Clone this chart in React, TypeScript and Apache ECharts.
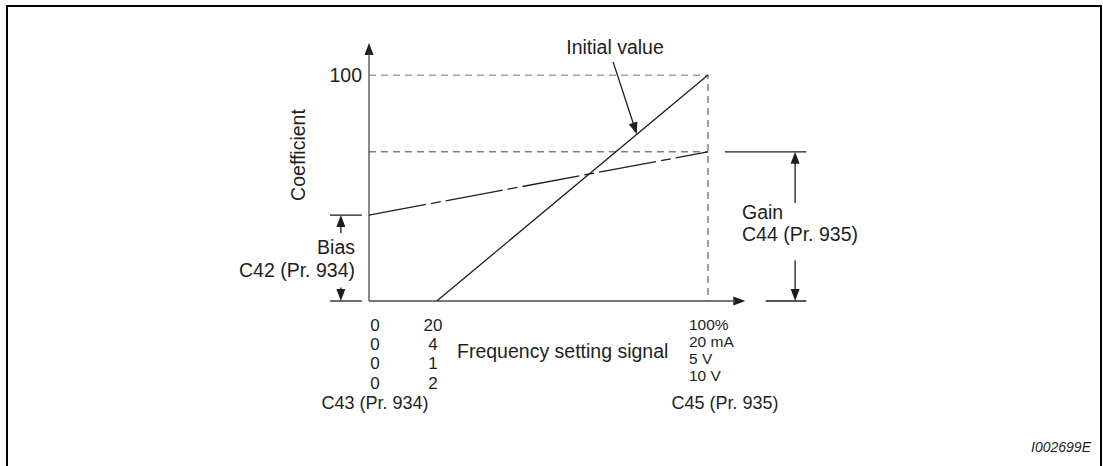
import React, { useEffect, useRef } from "react";
import * as echarts from "echarts";

// ---- data ----
const initialValueLine: number[][] = [[20, 0], [100, 100]];
const biasValue = 38;
const gainValue = 66;
const adjustedLine: number[][] = [[0, biasValue], [100, gainValue]];
const guideTop: number[][] = [[0, 100], [100, 100], [100, 0]];
const guideGain: number[][] = [[0, gainValue], [100, gainValue]];
const yTickLabels = ["100"];
const xTicksAt0 = ["0", "0", "0", "0"];
const xTicksAt20 = ["20", "4", "1", "2"];
const xTicksAt100 = ["100%", "20 mA", "5 V", "10 V"];
const xParamLeft = "C43 (Pr. 934)";
const xParamRight = "C45 (Pr. 935)";
const xAxisName = "Frequency setting signal";
const yAxisName = "Coefficient";
const biasLabel = ["Bias", "C42 (Pr. 934)"];
const gainLabel = ["Gain", "C44 (Pr. 935)"];
const pointerLabel = "Initial value";
const figureId = "I002699E";

// chart frame (pixels)
const W = 1103;
const H = 466;
const GRID = { left: 369, right: 395, top: 75, bottom: 165 };

const FONT = "'Liberation Sans', Arial, sans-serif";
const FS = 19.5;
const INK = "#1e1e1e";
const AXIS = "#4a4a4a";

export default function App() {
  const ref = useRef<HTMLDivElement>(null);
  useEffect(() => {
    if (!ref.current) return;
    const chart = echarts.init(ref.current, undefined, { renderer: "svg" });

    // segments: [x1, y1, x2, y2, arrow(1/0), style(0 ink / 1 axis)]
    const segs: number[][] = [
      // axes
      [0, 0, 111, 0, 1, 1],
      [0, 0, 0, 114.2, 1, 1],
      // bias bracket
      [-11.5, biasValue, -2.1, biasValue, 0, 0],
      [-11.5, 0, -2.1, 0, 0, 0],
      [-8.3, 30, -8.3, biasValue, 1, 0],
      [-8.3, 6, -8.3, 0, 1, 0],
      // gain bracket
      [105, gainValue, 129, gainValue, 0, 0],
      [117, 0, 129, 0, 0, 0],
      [125.7, 43.4, 125.7, gainValue, 1, 0],
      [125.7, 18, 125.7, 0, 1, 0],
      // pointer to initial value line
      [72, 105.8, 79, 73.75, 1, 0],
    ];

    const txt = (
      text: string,
      x: number,
      y: number,
      align: string,
      extra: any = {}
    ) => ({
      type: "text",
      x,
      y,
      rotation: extra.rotation || 0,
      style: {
        text,
        font: `${extra.italic ? "italic " : ""}${extra.size || FS}px ${FONT}`,
        fill: INK,
        align,
        textAlign: align,
        verticalAlign: "middle",
        textVerticalAlign: "middle",
      },
    });

    const texts: any[] = [];
    texts.push(txt(pointerLabel, 615, 47, "center"));
    texts.push(txt(yTickLabels[0], 362, 75, "right"));
    texts.push(txt(yAxisName, 298, 155, "center", { rotation: Math.PI / 2 }));
    texts.push(txt(biasLabel[0], 355, 247, "right"));
    texts.push(txt(biasLabel[1], 355, 270, "right"));
    texts.push(txt(gainLabel[0], 742, 212, "left"));
    texts.push(txt(gainLabel[1], 742, 234, "left"));
    const leftRows = [325, 344.3, 363.6, 383];
    xTicksAt0.forEach((t, i) => texts.push(txt(t, 375, leftRows[i], "center", { size: 17 })));
    xTicksAt20.forEach((t, i) => texts.push(txt(t, 433, leftRows[i], "center", { size: 17 })));
    const rightRows = [324, 341.3, 358.6, 375.9];
    xTicksAt100.forEach((t, i) => texts.push(txt(t, 689, rightRows[i], "left", { size: 15.5 })));
    texts.push(txt(xParamLeft, 375, 403, "center", { size: 18 }));
    texts.push(txt(xParamRight, 725, 403, "center", { size: 18 }));
    texts.push(txt(xAxisName, 457, 351, "left"));
    texts.push(txt(figureId, 1091, 447, "right", { italic: true, size: 14 }));

    chart.setOption({
      animation: false,
      backgroundColor: "#ffffff",
      grid: { ...GRID, containLabel: false },
      xAxis: {
        type: "value",
        min: 0,
        max: 100,
        axisLine: { show: false },
        axisTick: { show: false },
        axisLabel: { show: false },
        splitLine: { show: false },
      },
      yAxis: {
        type: "value",
        min: 0,
        max: 100,
        axisLine: { show: false },
        axisTick: { show: false },
        axisLabel: { show: false },
        splitLine: { show: false },
      },
      graphic: [
        {
          type: "rect",
          shape: { x: 7, y: 6, width: 1094, height: 480 },
          style: { fill: "none", stroke: "#000", lineWidth: 2 },
          silent: true,
        },
        ...texts,
      ],
      series: [
        {
          type: "line",
          data: guideTop,
          symbol: "none",
          lineStyle: { color: "#444", width: 1, type: [7, 5] },
          silent: true,
        },
        {
          type: "line",
          data: guideGain,
          symbol: "none",
          lineStyle: { color: "#444", width: 1, type: [7, 5] },
          silent: true,
        },
        {
          type: "line",
          data: initialValueLine,
          symbol: "none",
          lineStyle: { color: INK, width: 1.3 },
          silent: true,
        },
        {
          type: "line",
          data: adjustedLine,
          symbol: "none",
          lineStyle: { color: INK, width: 1.3, type: [58, 5, 10, 5] },
          silent: true,
        },
        {
          type: "custom",
          coordinateSystem: "cartesian2d",
          clip: false,
          silent: true,
          data: segs,
          renderItem: (params: any, api: any) => {
            const p1 = api.coord([api.value(0), api.value(1)]);
            const p2 = api.coord([api.value(2), api.value(3)]);
            const arrow = api.value(4);
            const color = api.value(5) === 1 ? AXIS : INK;
            const children: any[] = [];
            let end = p2;
            if (arrow) {
              const dx = p2[0] - p1[0];
              const dy = p2[1] - p1[1];
              const len = Math.hypot(dx, dy) || 1;
              const ux = dx / len;
              const uy = dy / len;
              const L = 12;
              const Wd = 4.5;
              const bx = p2[0] - ux * L;
              const by = p2[1] - uy * L;
              children.push({
                type: "polygon",
                shape: {
                  points: [
                    [p2[0], p2[1]],
                    [bx - uy * Wd, by + ux * Wd],
                    [bx + uy * Wd, by - ux * Wd],
                  ],
                },
                style: { fill: INK },
              });
              end = [bx + ux * 2, by + uy * 2];
            }
            children.push({
              type: "line",
              shape: { x1: p1[0], y1: p1[1], x2: end[0], y2: end[1] },
              style: { stroke: color, lineWidth: 1.3 },
            });
            return { type: "group", children };
          },
        },
      ],
    });
    return () => chart.dispose();
  }, []);

  return (
    <div
      ref={ref}
      style={{ position: "fixed", left: 0, top: 0, width: W, height: H, background: "#fff" }}
    />
  );
}
